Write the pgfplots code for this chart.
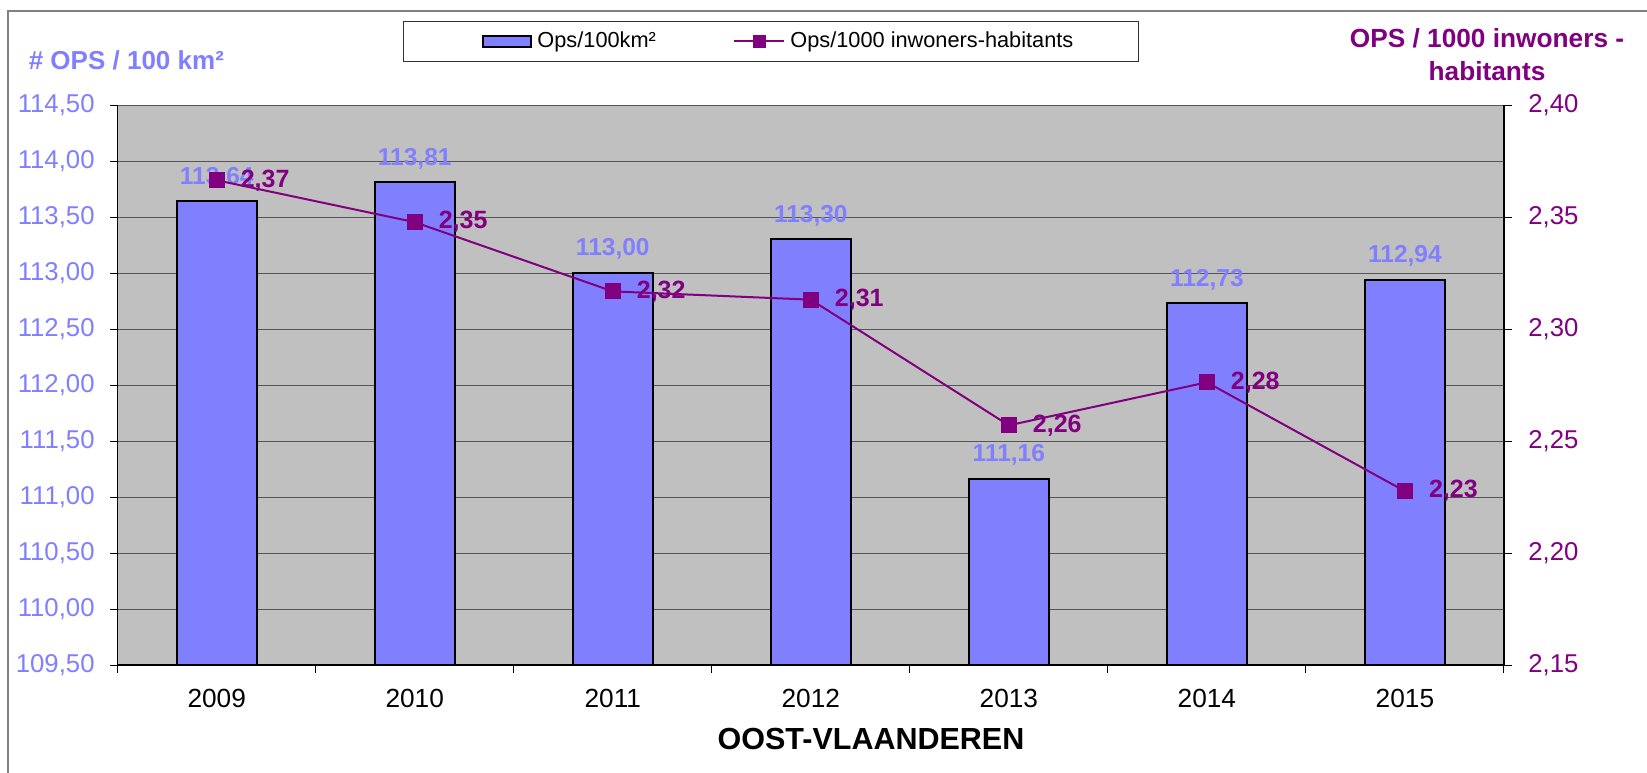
\documentclass[border=0pt]{standalone}
\usepackage{fontspec}
\setmainfont{Liberation Sans}
\usepackage{pgfplots}
\pgfplotsset{compat=1.18}
\definecolor{barblue}{HTML}{8080FF}
\definecolor{ops}{HTML}{800080}
\definecolor{plotbg}{HTML}{C0C0C0}
\definecolor{gridc}{HTML}{555555}
\newcommand{\tickfont}{\fontsize{10.3}{12}\selectfont}
\pgfplotsset{
  linelegend/.style={legend image code/.code={\draw[mark repeat=2,mark phase=2,##1] plot coordinates {(0pt,0pt) (10pt,0pt) (20pt,0pt)};}},
  barlegend/.style={legend image code/.code={\path (0pt,0pt); \draw[fill=barblue,draw=black,line width=0.8pt] (7.6pt,-2.2pt) rectangle (26.8pt,2.2pt);}},
}
\begin{document}
\begin{tikzpicture}
\path[use as bounding box] (0,0) rectangle (658.8pt,308.8pt);
\draw[gray, line width=0.5pt] (3.2pt,-5pt) -- (3.2pt,304.4pt) -- (665pt,304.4pt);

\begin{axis}[
  at={(47.08pt,42.8pt)}, anchor=south west,
  width=554.5pt, height=224pt, scale only axis,
  xmin=-0.5, xmax=6.5, ymin=109.5, ymax=114.5,
  ytick={109.5,110,110.5,111,111.5,112,112.5,113,113.5,114,114.5},
  axis x line*=bottom, axis y line*=left,
  axis background/.style={fill=plotbg},
  ymajorgrids, grid style={gridc, line width=0.4pt},
  tick align=outside, major tick length=3.2pt,
  tick style={black, line width=0.4pt},
  axis line style={black, line width=0.6pt},
  xtick={-0.5,0.5,1.5,2.5,3.5,4.5,5.5,6.5}, xticklabels={},
  extra x ticks={0,1,2,3,4,5,6},
  extra x tick labels={2009,2010,2011,2012,2013,2014,2015},
  extra x tick style={major tick length=0pt, grid=none},
  xticklabel style={font=\fontsize{10.5}{12}\selectfont, text=black, yshift=-6pt},
  yticklabel style={font=\tickfont, text=barblue, xshift=-2.5pt},
  /pgf/number format/fixed,
  /pgf/number format/fixed zerofill,
  /pgf/number format/precision=2,
  /pgf/number format/use comma,
  /pgf/number format/1000 sep={},
  /pgf/number format/assume math mode=true,
  legend style={at={(0.2058,1.15)}, anchor=north west, draw=black!80, fill=white,
    font=\fontsize{8.7}{10}\selectfont, inner xsep=24pt, inner ysep=2pt,
    /tikz/every even column/.append style={column sep=29pt}},
  legend columns=2, legend cell align=left,
]
\addplot[ybar, bar width=32pt, fill=barblue, draw=black, line width=0.8pt,
  nodes near coords,
  nodes near coords style={text=barblue, font=\fontsize{9.8}{12}\selectfont\bfseries, yshift=1.6pt},
  barlegend]
  coordinates {(0,113.64) (1,113.81) (2,113.00) (3,113.30) (4,111.16) (5,112.73) (6,112.94)};
\addlegendentry{Ops/100km²}
\addlegendimage{ops, line width=0.8pt, mark=square*, mark size=2.3pt, linelegend}
\addlegendentry{Ops/1000 inwoners-habitants}
\end{axis}

\begin{axis}[
  at={(47.08pt,42.8pt)}, anchor=south west,
  width=554.5pt, height=224pt, scale only axis,
  xmin=-0.5, xmax=6.5, ymin=2.15, ymax=2.40,
  ytick={2.15,2.2,2.25,2.3,2.35,2.4},
  axis y line*=right, axis x line=none,
  tick align=outside, major tick length=3.2pt,
  tick style={black, line width=0.4pt},
  axis line style={black, line width=0.6pt},
  yticklabel style={font=\tickfont, text=ops, xshift=3pt},
  /pgf/number format/fixed,
  /pgf/number format/fixed zerofill,
  /pgf/number format/precision=2,
  /pgf/number format/use comma,
  /pgf/number format/assume math mode=true,
]
\addplot[ops, line width=0.8pt, mark=square*, mark size=2.8pt,
  nodes near coords,
  nodes near coords style={anchor=west, xshift=5.9pt, text=ops, font=\fontsize{10}{12}\selectfont\bfseries}]
  coordinates {(0,2.3664) (1,2.3477) (2,2.3168) (3,2.3131) (4,2.2570) (5,2.2762) (6,2.2276)};
\end{axis}

\node[anchor=base west, text=barblue, font=\fontsize{10.4}{12}\selectfont\bfseries] at (8pt,280.8pt) {\# OPS / 100 km²};
\node[anchor=base, text=ops, font=\fontsize{10.5}{12}\selectfont\bfseries] at (594.8pt,289.6pt) {OPS / 1000 inwoners -};
\node[anchor=base, text=ops, font=\fontsize{10.5}{12}\selectfont\bfseries] at (594.8pt,276.8pt) {habitants};
\node[anchor=center, font=\fontsize{12.2}{14}\selectfont\bfseries] at (348.4pt,13.4pt) {OOST-VLAANDEREN};
\end{tikzpicture}
\end{document}
